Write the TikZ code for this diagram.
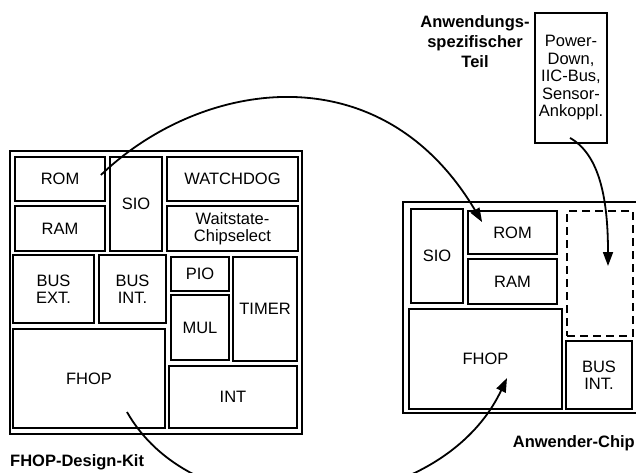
\documentclass[tikz,border=0pt]{standalone}
\usepackage{fontspec}
\setmainfont{Liberation Sans}
\usetikzlibrary{arrows.meta,calc}
\begin{document}
\begin{tikzpicture}[x=1pt,y=-1pt,
  blk/.style={draw, line width=1.8pt, rectangle, inner sep=0pt, align=center,
    font=\fontsize{16.5}{17.5}\selectfont},
  frame/.style={draw, line width=1.8pt, rectangle, inner sep=0pt},
  dbox/.style={draw, line width=1.8pt, dash pattern=on 8pt off 5pt, rectangle, inner sep=0pt},
  lbl/.style={font=\bfseries\fontsize{16.5}{20}\selectfont, inner sep=0pt, align=center},
  conn/.style={line width=1.8pt, -{Triangle[length=14pt,width=10pt]}}]
\useasboundingbox (0,0) rectangle (636,472);
\clip (0,0) rectangle (636,472);
% left chip
\node[frame, minimum width=292pt, minimum height=283pt] (kit) at (156,292.5) {};
\node[blk, minimum width=90pt, minimum height=44pt] (romL) at (60,179) {ROM};
\node[blk, minimum width=52pt, minimum height=94pt] (sioL) at (136,204) {SIO};
\node[blk, minimum width=131pt, minimum height=44pt] (wd) at (232.5,179) {WATCHDOG};
\node[blk, minimum width=90pt, minimum height=45pt] (ramL) at (60,228.5) {RAM};
\node[blk, minimum width=131pt, minimum height=45pt] (ws) at (232.5,228.5) {Waitstate-\\Chipselect};
\node[blk, minimum width=81pt, minimum height=68pt] (busext) at (53.5,289) {BUS\\EXT.};
\node[blk, minimum width=67pt, minimum height=68pt] (busintL) at (132.5,289) {BUS\\INT.};
\node[blk, minimum width=58pt, minimum height=34pt] (pio) at (200,274) {PIO};
\node[blk, minimum width=64pt, minimum height=104pt] (timer) at (265,309) {TIMER};
\node[blk, minimum width=58pt, minimum height=65pt] (mul) at (200,327.5) {MUL};
\node[blk, minimum width=152pt, minimum height=99pt] (fhopL) at (89,378.5) {FHOP};
\node[blk, minimum width=128pt, minimum height=62pt] (int) at (233,397) {INT};
\node[lbl, anchor=base west] (kitlbl) at (10,466) {FHOP-Design-Kit};
% right chip
\node[frame, minimum width=242pt, minimum height=211pt] (chip) at (524,307.5) {};
\node[blk, minimum width=52pt, minimum height=94pt] (sioR) at (437,256) {SIO};
\node[blk, minimum width=89pt, minimum height=43pt] (romR) at (512.5,232.5) {ROM};
\node[blk, minimum width=89pt, minimum height=45pt] (ramR) at (512.5,281.5) {RAM};
\node[blk, minimum width=153pt, minimum height=100pt] (fhopR) at (485.5,359) {FHOP};
\node[dbox, minimum width=66pt, minimum height=125pt] (spare) at (600,273.5) {};
\node[blk, minimum width=66pt, minimum height=68pt] (busintR) at (599,375) {BUS\\INT.};
\node[lbl, anchor=base east] (chiplbl) at (635,447) {Anwender-Chip};
% application specific part
\node[lbl] (appl) at (475,42) {Anwendungs-\\spezifischer\\Teil};
\node[blk, minimum width=72pt, minimum height=130pt] (power) at (571,78) {Power-\\Down,\\IIC-Bus,\\Sensor-\\Ankoppl.};
% connectors
\draw[conn] ($(romL.east)+(-5,-4)$) .. controls (200,80) and (380,50) .. ($(romR.north west)+(15,12)$);
\draw[conn] ($(fhopL.center)+(38,33.5)$) .. controls (200,540) and (440,520) .. ($(fhopR.center)+(21.5,19)$);
\draw[conn] ($(power.south)+(-1,-6)$) .. controls (600,155) and (608,200) .. ($(spare.center)+(8,-7.5)$);
\end{tikzpicture}
\end{document}
